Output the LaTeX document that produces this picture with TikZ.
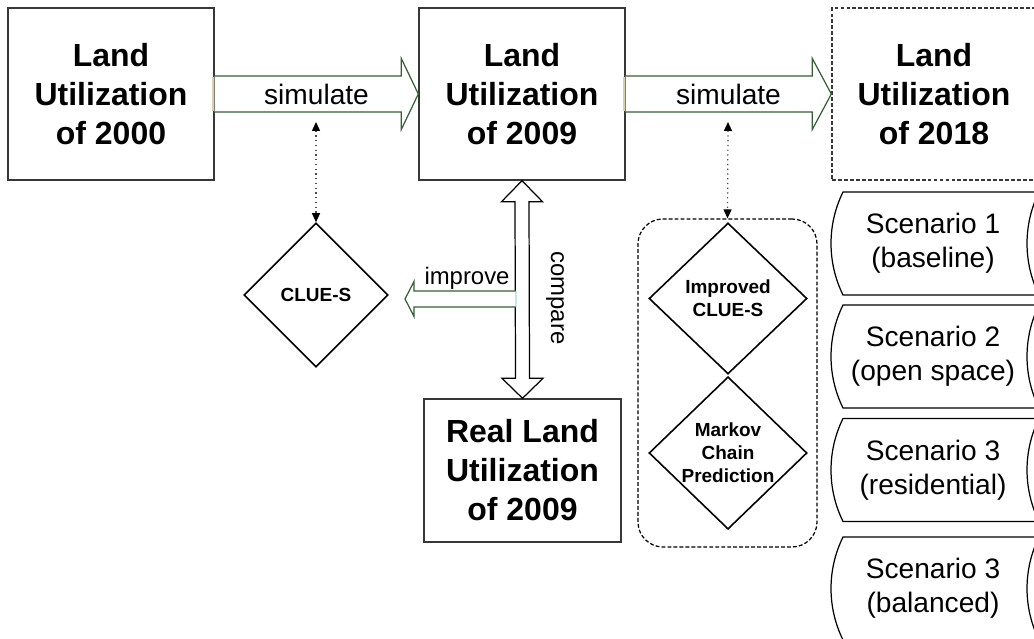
\documentclass[tikz,border=0pt]{standalone}
\usepackage{fontspec}
\setmainfont{Liberation Sans}
\usetikzlibrary{shapes.geometric,arrows.meta,calc}

\definecolor{arrowgreen}{RGB}{55,95,55}
\definecolor{arrowtan}{RGB}{214,210,172}
\definecolor{arrowpale}{RGB}{205,225,235}
\definecolor{boxgray}{RGB}{55,55,55}

\begin{document}
\begin{tikzpicture}[y=-1cm,
  landbox/.style={draw=boxgray,line width=.4pt,minimum width=2.06cm,minimum height=1.72cm,inner sep=0pt,align=center,font=\fontsize{9.1}{11.1}\selectfont\bfseries},
  decision/.style={draw,diamond,line width=.45pt,inner sep=0pt,align=center,font=\fontsize{5.4}{6.5}\selectfont\bfseries},
  scentext/.style={align=center,font=\fontsize{8}{9.6}\selectfont},
  arrowtext/.style={font=\fontsize{8}{9.4}\selectfont},
  smalltext/.style={font=\fontsize{6.8}{8}\selectfont},
  hollow/.style={draw=arrowgreen,fill=white,line width=.35pt},
  dotarrow/.style={densely dotted,black!70,line width=.35pt,{Triangle[length=.09cm,width=.08cm,color=black]}-{Triangle[length=.09cm,width=.08cm,color=black]}},
  fine dash/.style={dash pattern=on 1.1pt off .6pt}]
 \useasboundingbox (0,0) rectangle (10.34,6.39);
 \fill[white] (0,0) rectangle (10.34,6.39);

 \node[landbox] (lu2000) at (1.11,0.94) {Land\\Utilization\\of 2000};
 \node[landbox] (lu2009) at (5.22,0.94) {Land\\Utilization\\of 2009};
 \node[landbox,fine dash,minimum width=2.04cm] (lu2018) at (9.34,0.94) {Land\\Utilization\\of 2018};
 \node[landbox,minimum width=1.97cm,minimum height=1.43cm] (real) at (5.225,4.705) {Real Land\\Utilization\\of 2009};

 \draw[hollow] ($(lu2000.east)+(0,-.18)$) -- ($(lu2009.west)+(-.17,-.18)$) -- ++(0,-.175) -- (lu2009.west)
   -- ++(-.17,.355) -- ++(0,-.175) -- ($(lu2000.east)+(0,.18)$);
 \draw[arrowtan,line width=.6pt] ($(lu2000.east)+(-.02,-.17)$) -- ++(0,.34);
 \node[arrowtext] (sim1) at ($(lu2000.east)!.5!(lu2009.west)$) {simulate};

 \draw[hollow] ($(lu2009.east)+(0,-.18)$) -- ($(lu2018.west)+(-.19,-.18)$) -- ++(0,-.175) -- (lu2018.west)
   -- ++(-.19,.355) -- ++(0,-.175) -- ($(lu2009.east)+(0,.18)$);
 \draw[arrowtan,line width=.6pt] ($(lu2009.east)+(-.02,-.17)$) -- ++(0,.34);
 \node[arrowtext] (sim2) at ($(lu2009.east)!.5!(lu2018.west)$) {simulate};

 \node[decision,minimum width=1.44cm,minimum height=1.44cm] (clue) at (3.16,2.95) {CLUE-S};
 \coordinate (s1) at (3.16,1.22);
 \draw[dotarrow] (s1) -- (clue.north);

 \draw[draw=black,fill=white,line width=.35pt] (lu2009.south) -- ++(.205,.21) -- ++(-.135,0) -- ($(real.north)+(.07,-.2)$)
   -- ++(.135,0) -- (real.north) -- ++(-.205,-.2) -- ++(.135,0) -- ($(lu2009.south)+(-.07,.21)$) -- ++(-.135,0) -- cycle;
 \node[smalltext,rotate=-90] (cmp) at (5.55,2.98) {compare};

 \coordinate (impstart) at (5.16,2.99);
 \coordinate (imptip) at (4.05,2.99);
 \draw[hollow] ($(impstart)+(0,-.08)$) -- ($(imptip)+(.09,-.08)$) -- ++(0,-.095) -- (imptip)
   -- ++(.09,.175) -- ++(0,-.095) -- ($(impstart)+(0,.08)$);
 \draw[arrowpale,line width=.5pt] ($(impstart)+(0,-.07)$) -- ++(0,.14);
 \node[smalltext] (imp) at (4.67,2.78) {improve};

 \node[draw,fine dash,line width=.35pt,rounded corners=.25cm,minimum width=1.79cm,minimum height=3.28cm] (grp) at (7.275,3.83) {};
 \node[decision,minimum width=1.58cm,minimum height=1.51cm] (iclue) at (7.28,2.985) {Improved\\CLUE-S};
 \node[decision,minimum width=1.58cm,minimum height=1.48cm] (markov) at (7.28,4.53) {Markov\\Chain\\Prediction};
 \coordinate (s2) at (7.28,1.22);
 \draw[dotarrow] (s2) -- (grp.north);

 \foreach \y/\txt/\nm in {2.435/{Scenario 1\\(baseline)}/sc1,3.565/{Scenario 2\\(open space)}/sc2,
                          4.70/{Scenario 3\\(residential)}/sc3,5.885/{Scenario 3\\(balanced)}/sc4}{
  \draw[line width=.35pt] (8.43,{\y-.515}) -- (10.39,{\y-.515})
    .. controls (10.23,{\y-.19}) and (10.23,{\y+.19}) .. (10.39,{\y+.515})
    -- (8.43,{\y+.515}) .. controls (8.27,{\y+.19}) and (8.27,{\y-.19}) .. (8.43,{\y-.515}) -- cycle;
  \node[scentext] (\nm) at (9.33,\y) {\txt};
 }
\end{tikzpicture}
\end{document}
